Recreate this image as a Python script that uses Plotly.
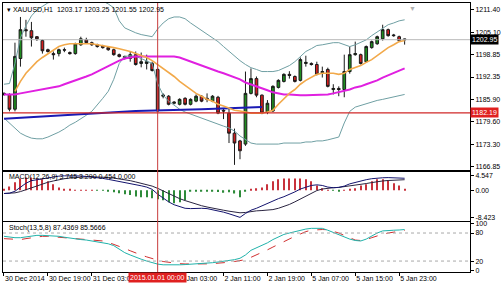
import plotly.graph_objects as go
from plotly.subplots import make_subplots

# ---------------- data (bar index = H1 bar) ----------------
bars = list(range(74))
opens = [1187.7, 1187.4, 1183.2, 1197.6, 1205.8, 1205.5, 1203.8, 1202.7, 1200.1, 1199.0,
         1199.0, 1200.1, 1199.3, 1199.0, 1201.5, 1202.9, 1202.1, 1201.5, 1201.2, 1200.7,
         1200.1, 1198.7, 1198.2, 1197.6, 1198.7, 1196.2, 1196.2, 1196.2, 1194.5, 1186.9,
         1186.9, 1184.9, 1184.6, 1186.3, 1184.6, 1185.5, 1186.9, 1186.3, 1185.5, 1186.6,
         1182.9, 1182.1, 1176.4, 1174.2, 1173.3, 1187.7, 1191.9, 1187.2, 1182.4, 1182.7,
         1189.4, 1191.1, 1193.1, 1192.5, 1191.4, 1196.2, 1196.2, 1195.9, 1193.6, 1194.5,
         1188.8, 1189.1, 1188.8, 1193.9, 1198.7, 1198.7, 1196.7, 1200.7, 1201.8, 1203.2,
         1205.8, 1204.3, 1203.8, 1203.17]
highs = [1188.0, 1187.7, 1202.1, 1209.4, 1208.6, 1208.0, 1204.0, 1203.0, 1200.4, 1199.6,
         1200.4, 1200.7, 1199.6, 1202.1, 1203.8, 1203.5, 1202.4, 1201.8, 1201.5, 1201.0,
         1200.4, 1199.0, 1198.4, 1199.6, 1199.6, 1199.3, 1198.7, 1196.7, 1195.0, 1187.7,
         1187.2, 1185.5, 1186.3, 1186.6, 1186.3, 1187.4, 1187.2, 1187.7, 1187.2, 1187.0,
         1183.5, 1183.5, 1177.7, 1174.5, 1193.9, 1194.8, 1192.5, 1187.4, 1185.8, 1190.0,
         1191.7, 1193.4, 1194.0, 1192.8, 1197.9, 1198.4, 1196.5, 1196.7, 1195.3, 1195.0,
         1190.3, 1189.7, 1198.7, 1201.0, 1202.4, 1199.0, 1201.3, 1202.7, 1204.1, 1207.2,
         1206.1, 1204.6, 1204.1, 1203.25]
lows = [1187.0, 1182.6, 1182.6, 1195.3, 1203.8, 1201.0, 1202.6, 1199.0, 1199.3, 1197.3,
        1198.2, 1199.4, 1198.7, 1198.7, 1201.2, 1201.8, 1201.2, 1200.7, 1200.4, 1199.8,
        1198.4, 1197.9, 1197.3, 1196.7, 1195.6, 1195.1, 1194.5, 1193.9, 1182.4, 1186.3,
        1184.3, 1184.6, 1184.3, 1184.3, 1184.3, 1185.2, 1185.2, 1185.2, 1185.2, 1181.8,
        1180.4, 1173.6, 1167.4, 1169.0, 1172.8, 1187.4, 1186.6, 1181.8, 1181.8, 1182.4,
        1189.1, 1190.8, 1191.9, 1190.8, 1191.1, 1195.3, 1195.6, 1192.8, 1192.2, 1189.4,
        1187.4, 1186.9, 1186.6, 1193.3, 1198.4, 1195.9, 1196.5, 1200.4, 1201.5, 1202.7,
        1203.8, 1203.8, 1202.4, 1201.55]
closes = [1187.4, 1183.2, 1198.2, 1205.8, 1205.5, 1203.5, 1203.2, 1199.8, 1199.6, 1198.7,
          1200.1, 1200.0, 1199.0, 1201.8, 1203.2, 1202.1, 1201.5, 1201.0, 1200.7, 1200.1,
          1198.7, 1198.2, 1197.6, 1198.7, 1195.9, 1196.7, 1196.7, 1194.2, 1182.7, 1187.2,
          1184.6, 1185.2, 1186.0, 1184.6, 1186.0, 1186.9, 1185.5, 1186.0, 1186.9, 1182.1,
          1182.7, 1176.4, 1173.6, 1171.4, 1187.7, 1191.9, 1187.2, 1182.1, 1184.9, 1189.7,
          1191.4, 1193.1, 1192.8, 1191.1, 1197.3, 1196.5, 1195.9, 1193.1, 1193.9, 1189.7,
          1189.1, 1188.8, 1193.9, 1198.7, 1199.0, 1196.2, 1201.0, 1202.4, 1203.8, 1205.8,
          1204.1, 1204.1, 1202.7, 1202.95]

ma_fast_idx = list(range(2, 74))
ma_fast = [1188.3, 1191.1, 1193.4, 1195.0, 1196.7, 1197.9, 1199.0, 1200.1, 1201.0, 1201.5,
           1201.8, 1201.8, 1201.8, 1201.8, 1201.8, 1201.5, 1201.3, 1201.0, 1200.7, 1200.4,
           1200.1, 1199.6, 1199.0, 1198.4, 1197.9, 1197.0, 1195.9, 1194.8, 1193.6, 1192.5,
           1191.1, 1190.0, 1188.8, 1187.7, 1186.9, 1186.0, 1185.5, 1184.6, 1184.1, 1183.5,
           1182.9, 1182.7, 1182.4, 1182.1, 1182.1, 1182.1, 1182.4, 1182.9, 1184.6, 1186.3,
           1187.7, 1188.8, 1190.3, 1191.4, 1192.2, 1193.1, 1193.4, 1193.4, 1193.4, 1193.1,
           1193.4, 1194.5, 1195.0, 1195.6, 1196.5, 1197.3, 1198.4, 1199.6, 1200.7, 1201.5,
           1202.4, 1202.7]
ma_slow = [1187.4, 1187.4, 1187.4, 1187.7, 1188.0, 1188.3, 1188.6, 1188.8, 1189.1, 1189.4,
           1189.7, 1190.3, 1190.8, 1191.4, 1191.9, 1192.5, 1193.1, 1193.9, 1194.8, 1195.6,
           1196.2, 1197.0, 1197.6, 1197.9, 1198.2, 1198.2, 1198.2, 1198.2, 1198.2, 1198.2,
           1198.2, 1198.2, 1197.9, 1197.3, 1196.7, 1196.2, 1195.6, 1195.0, 1194.5, 1193.9,
           1193.4, 1192.8, 1192.2, 1191.7, 1190.8, 1190.3, 1189.7, 1189.1, 1188.6, 1188.0,
           1187.7, 1187.4, 1187.4, 1187.2, 1187.2, 1187.2, 1187.2, 1187.4, 1187.4, 1187.4,
           1187.7, 1188.0, 1188.3, 1188.8, 1189.4, 1189.7, 1190.3, 1190.8, 1191.4, 1192.2,
           1192.8, 1193.4, 1194.2, 1194.8]
bb_upper = [1190.3, 1190.5, 1196.2, 1203.5, 1206.9, 1209.7, 1211.4, 1212.5, 1213.4, 1213.9,
            1214.2, 1214.2, 1214.2, 1214.2, 1214.2, 1214.2, 1214.2, 1214.2, 1213.9, 1213.1,
            1212.0, 1208.3, 1206.3, 1205.5, 1204.9, 1204.4, 1204.1, 1203.8, 1206.0, 1207.7,
            1208.9, 1209.4, 1209.4, 1208.9, 1207.7, 1206.6, 1205.5, 1204.6, 1203.5, 1202.4,
            1201.0, 1199.6, 1198.2, 1197.0, 1195.9, 1195.0, 1194.5, 1193.9, 1193.9, 1193.9,
            1194.2, 1194.8, 1195.6, 1196.7, 1198.2, 1199.6, 1200.4, 1201.3, 1201.5, 1201.8,
            1202.1, 1202.1, 1201.5, 1201.0, 1201.5, 1202.1, 1202.9, 1204.1, 1205.2, 1206.3,
            1207.2, 1207.7, 1208.3, 1208.6]
bb_lower = [1180.7, 1179.3, 1177.9, 1176.4, 1175.6, 1175.0, 1174.8, 1174.8, 1175.3, 1175.9,
            1176.7, 1177.6, 1178.7, 1179.5, 1180.4, 1181.5, 1182.6, 1184.3, 1186.3, 1188.3,
            1191.7, 1196.2, 1198.2, 1198.4, 1198.2, 1197.6, 1197.0, 1196.2, 1190.5, 1187.2,
            1185.5, 1184.3, 1183.2, 1182.4, 1181.8, 1181.2, 1180.7, 1180.1, 1179.5, 1179.0,
            1178.4, 1177.9, 1177.0, 1175.6, 1174.5, 1173.6, 1173.3, 1173.3, 1173.3, 1173.3,
            1173.3, 1173.6, 1173.6, 1173.6, 1173.6, 1173.9, 1173.9, 1174.2, 1174.2, 1174.5,
            1174.8, 1175.3, 1179.3, 1182.6, 1183.8, 1184.3, 1184.6, 1185.2, 1185.7, 1186.0,
            1186.3, 1186.6, 1186.9, 1187.4]
trend_idx = [0, 17, 24, 36, 47]
trend_val = [1180.5, 1182.1, 1182.7, 1183.2, 1183.8]

support_level = 1182.19
bid_price = 1202.95
vline_bar = 28

macd_hist = [0.3, 1.2, 2.5, 3.7, 4.0, 4.0, 3.7, 3.4, 2.8, 1.9,
             0.9, 0.3, 0.2, 0.15, 0.1, 0.1, 0.05, -0.05, -0.1, -0.15,
             -0.6, -0.9, -1.2, -1.5, -1.9, -2.2, -2.2, -2.5, -2.8, -3.1,
             -3.7, -4.0, -3.7, -3.1, -0.4, -0.3, -0.2, -0.2, -0.3, -0.5,
             -0.8, -0.6, -1.0, -2.2, -0.3, 0.3, 0.6, 0.9, 1.9, 2.8,
             3.4, 3.7, 3.7, 3.7, 3.7, 3.4, 2.8, 1.5, 0.6, 0.15,
             -0.1, -0.15, 0.1, 0.3, 0.6, 1.5, 1.9, 2.8, 3.4, 3.4,
             3.1, 2.2, 1.5, 0.454]
macd_main = [-1.0, -0.9, -0.3, 1.0, 2.2, 3.0, 3.3, 3.6, 3.9, 4.2,
             4.4, 4.5, 4.547, 4.5, 4.45, 4.3, 4.15, 4.0, 3.7, 3.4,
             3.1, 2.8, 2.5, 2.2, 1.8, 1.4, 1.0, 0.3, -1.2, -2.4,
             -3.6, -4.5, -5.1, -5.6, -5.7, -5.6, -5.6, -5.7, -6.0, -6.3,
             -6.8, -7.3, -7.9, -8.423, -7.2, -6.2, -5.6, -4.8, -4.0, -3.3,
             -2.6, -2.0, -1.3, -0.5, 0.4, 1.0, 1.5, 1.7, 1.5, 1.0,
             0.8, 0.9, 1.3, 2.0, 2.5, 2.9, 3.3, 3.6, 3.8, 3.9,
             3.95, 3.9, 3.85, 3.745]
macd_signal = [-1.0, -1.0, -0.8, -0.4, 0.2, 0.8, 1.4, 2.0, 2.5, 2.9,
               3.3, 3.6, 3.8, 4.0, 4.1, 4.2, 4.2, 4.2, 4.1, 4.0,
               3.8, 3.6, 3.3, 3.0, 2.6, 2.2, 1.8, 1.3, 0.6, -0.2,
               -1.1, -1.9, -2.6, -3.2, -3.8, -4.3, -4.8, -5.2, -5.6, -5.9,
               -6.2, -6.5, -6.8, -7.0, -6.9, -6.6, -6.4, -6.3, -6.2, -6.0,
               -5.6, -5.1, -4.4, -3.6, -2.7, -1.8, -0.9, -0.1, 0.4, 0.7,
               0.8, 0.9, 1.1, 1.4, 1.7, 1.9, 2.1, 2.4, 2.7, 2.9,
               3.05, 3.15, 3.25, 3.29]
stoch_main = [73, 71, 70, 70, 72, 74, 75, 75, 74.5, 74,
              73, 71, 69, 67, 66, 65, 63, 61.5, 60, 57,
              53, 46, 38, 33, 28, 24, 20, 16, 13.5, 12,
              11.5, 11.5, 12, 12.5, 13, 13.5, 14, 15, 16.5, 18,
              19.5, 21, 23, 26, 33, 43, 48, 54, 59, 66,
              72, 77, 80, 83, 86, 88.5, 90, 90.6, 90, 86,
              81, 76, 71, 67, 64, 63, 67, 74, 80, 84.5,
              86, 86, 86.5, 87.4369]
stoch_signal = [68, 67, 66, 66, 68, 70, 72, 73, 73, 72,
                71, 70, 69.5, 68.5, 67.5, 66.5, 65.5, 64.5, 63, 60,
                56, 51, 47, 42, 37, 33, 29, 25, 22, 19,
                17, 15.5, 14.5, 13.8, 13.5, 13.5, 13.8, 14, 14.5, 15,
                16, 17.5, 19, 20.5, 23, 28, 33, 39, 44, 50,
                56, 62, 68, 73, 78, 83, 86, 87, 87.5, 87,
                84, 80, 75, 70, 65, 64, 66, 70, 74, 77.5,
                80, 82, 84, 85.5666]

time_tick_idx = [0, 8, 16, 32, 40, 48, 56, 64, 72]
time_tick_text = ["30 Dec 2014", "30 Dec 19:00", "31 Dec 03:00", "2 Jan 03:00",
                  "2 Jan 11:00", "2 Jan 19:00", "5 Jan 07:00", "5 Jan 15:00", "5 Jan 23:00"]
price_ticks = [1211.40, 1205.10, 1198.85, 1192.35, 1185.90, 1179.60, 1173.30, 1166.85]
macd_ticks = [4.547, 0.0, -8.423]
macd_tick_text = ["4.547", "0.00", "-8.423"]
stoch_ticks = [100, 80, 20, 0]

# ---------------- figure ----------------
FONT = "Liberation Sans"
fig = make_subplots(rows=3, cols=1, shared_xaxes=True, vertical_spacing=0)

fig.add_trace(go.Scatter(x=bars, y=bb_upper, mode="lines", line=dict(color="#6f9fa3", width=1)), row=1, col=1)
fig.add_trace(go.Scatter(x=bars, y=bb_lower, mode="lines", line=dict(color="#6f9fa3", width=1)), row=1, col=1)
fig.add_trace(go.Scatter(x=trend_idx, y=trend_val, mode="lines", line=dict(color="#1a1ab4", width=2)), row=1, col=1)
fig.add_trace(go.Scatter(x=bars, y=ma_slow, mode="lines", line=dict(color="#e020e0", width=2)), row=1, col=1)
fig.add_trace(go.Scatter(x=ma_fast_idx, y=ma_fast, mode="lines", line=dict(color="#f2a94a", width=1.6)), row=1, col=1)
fig.add_trace(go.Candlestick(
    x=bars, open=opens, high=highs, low=lows, close=closes,
    increasing=dict(line=dict(color="#1a1a1a", width=1), fillcolor="#1f8c1f"),
    decreasing=dict(line=dict(color="#1a1a1a", width=1), fillcolor="#d41e1e"),
    whiskerwidth=0, hoverinfo="skip"), row=1, col=1)

hist_colors = ["#c8323c" if v >= 0 else "#2e8b3a" for v in macd_hist]
fig.add_trace(go.Bar(x=bars, y=macd_hist, marker=dict(color=hist_colors, line=dict(width=0)), width=0.22), row=2, col=1)
fig.add_trace(go.Scatter(x=bars, y=macd_signal, mode="lines", line=dict(color="#2a2440", width=1)), row=2, col=1)
fig.add_trace(go.Scatter(x=bars, y=macd_main, mode="lines", line=dict(color="#14146e", width=1)), row=2, col=1)

fig.add_trace(go.Scatter(x=bars, y=stoch_signal, mode="lines", line=dict(color="#d03030", width=1, dash="dash")), row=3, col=1)
fig.add_trace(go.Scatter(x=bars, y=stoch_main, mode="lines", line=dict(color="#20b2aa", width=1)), row=3, col=1)

fig.update_layout(
    width=502, height=284, margin=dict(l=3, r=31, t=1, b=12),
    paper_bgcolor="white", plot_bgcolor="white", showlegend=False,
    font=dict(family=FONT, size=7, color="#000000"),
    xaxis_rangeslider_visible=False,
    yaxis=dict(domain=[0.3764, 1.0]),
    yaxis2=dict(domain=[0.1882, 0.3764]),
    yaxis3=dict(domain=[0.0, 0.1845]),
)
fig.update_xaxes(range=[-0.18, 84.91], showgrid=False, zeroline=False, showline=True,
                 linecolor="#000000", linewidth=1, mirror=True, ticks="")
fig.update_xaxes(tickvals=time_tick_idx, ticktext=time_tick_text, ticks="outside", ticklen=3,
                 tickcolor="#000000", ticklabelposition="outside right", tickangle=0,
                 ticklabelstandoff=0,
                 tickfont=dict(size=7, family=FONT, color="#000000"), row=3, col=1)
common_y = dict(side="right", showgrid=False, zeroline=False, showline=True, linecolor="#000000",
                linewidth=1, mirror=True, ticks="outside", ticklen=3, tickcolor="#000000",
                tickfont=dict(size=7, family=FONT, color="#000000"))
fig.update_yaxes(range=[1165.73, 1213.37], tickvals=price_ticks,
                 ticktext=[f"{v:.2f}" for v in price_ticks], row=1, col=1, **common_y)
fig.update_yaxes(range=[-9.67, 6.08], tickvals=macd_ticks, ticktext=macd_tick_text, row=2, col=1, **common_y)
fig.update_yaxes(range=[-3.4, 102.8], tickvals=stoch_ticks, ticktext=[str(v) for v in stoch_ticks],
                 row=3, col=1, **common_y)

# level lines
fig.add_shape(type="line", xref="x domain", x0=0, x1=1, yref="y", y0=bid_price, y1=bid_price,
              line=dict(color="#b8b8b8", width=1))
fig.add_shape(type="line", xref="x domain", x0=0, x1=1, yref="y", y0=support_level, y1=support_level,
              line=dict(color="#d02828", width=1.2))
for lv in (80, 20):
    fig.add_shape(type="line", xref="x3 domain", x0=0, x1=1, yref="y3", y0=lv, y1=lv,
                  line=dict(color="#a8a8a8", width=1, dash="dot"))
fig.add_shape(type="line", xref="x", x0=vline_bar, x1=vline_bar, yref="paper", y0=0, y1=1,
              line=dict(color="#c83c3c", width=1))

# texts
fig.add_annotation(xref="paper", yref="paper", x=0.004, y=0.974, xanchor="left", yanchor="middle",
                   text="▾ XAUUSD,H1  1203.17 1203.25 1201.55 1202.95", showarrow=False,
                   font=dict(size=7, family=FONT, color="#000000"))
fig.add_annotation(xref="paper", yref="paper", x=0.008, y=0.354, xanchor="left", yanchor="middle",
                   text="MACD(12,26,9) 3.745 3.290 0.454 0.000", showarrow=False,
                   font=dict(size=7, family=FONT, color="#000000"))
fig.add_annotation(xref="paper", yref="paper", x=0.008, y=0.162, xanchor="left", yanchor="middle",
                   text="Stoch(13,5,8) 87.4369 85.5666", showarrow=False,
                   font=dict(size=7, family=FONT, color="#000000"))
fig.add_annotation(xref="paper", yref="y", x=1.0, y=bid_price, xanchor="left", yanchor="middle",
                   text="1202.95", showarrow=False, bgcolor="#000000", borderpad=1,
                   font=dict(size=7, family=FONT, color="#ffffff"))
fig.add_annotation(xref="paper", yref="y", x=1.0, y=support_level, xanchor="left", yanchor="middle",
                   text="1182.19", showarrow=False, bgcolor="#e02020", borderpad=1,
                   font=dict(size=7, family=FONT, color="#ffffff"))
fig.add_annotation(xref="x", yref="paper", x=vline_bar, y=-0.022, xanchor="center", yanchor="middle",
                   text="2015.01.01 00:00", showarrow=False, bgcolor="#e02020", borderpad=1,
                   font=dict(size=7, family=FONT, color="#ffffff"))
fig.add_annotation(xref="paper", yref="paper", x=0.877, y=1.0, xanchor="center", yanchor="top",
                   text="▼", showarrow=False, font=dict(size=7, family=FONT, color="#b0b0b0"))

fig.write_html("out.html")
